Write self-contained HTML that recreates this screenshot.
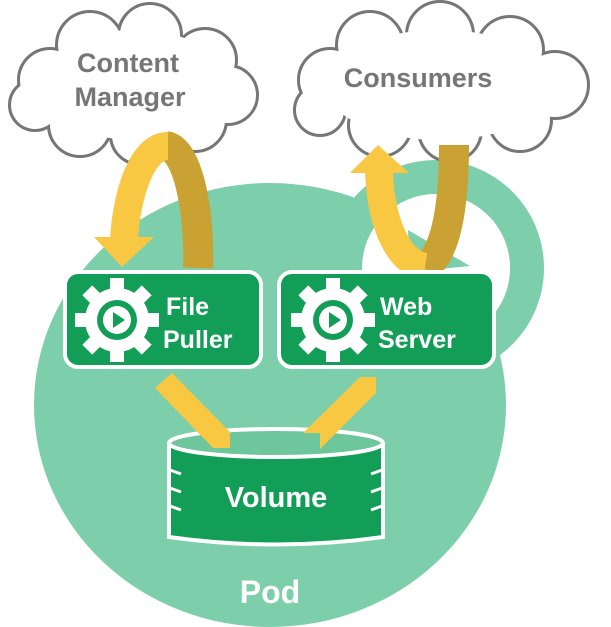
<!DOCTYPE html>
<html><head><meta charset="utf-8"><style>
html,body{margin:0;padding:0;background:#fff;}
svg{display:block;}
text{font-family:"Liberation Sans",sans-serif;font-weight:bold;}
</style></head><body>
<svg width="611" height="627" viewBox="0 0 611 627">
<!-- pod ring -->
<circle cx="436" cy="268" r="91" fill="none" stroke="#7dcfab" stroke-width="34"/>
<polygon points="410,232 470,268 412,275" fill="#7dcfab"/>
<!-- pod -->
<ellipse cx="270" cy="405" rx="236" ry="222" fill="#7dcfab"/>
<circle cx="436" cy="268" r="74" fill="#fff"/>
<path d="M362 268 A74 74 0 0 1 436 194" fill="none"/>
<polygon points="408,230 470,266 410,272" fill="#7dcfab"/>
<path d="M 395 260 L 470 268 L 505 350 L 440 330 Z" fill="#7dcfab" opacity="0"/>
<!-- clouds -->
<g stroke="#767676" stroke-width="6" fill="#fff">
 <circle cx="50" cy="80" r="30"/><circle cx="90" cy="45" r="32"/><circle cx="150" cy="35" r="30"/><circle cx="205" cy="60" r="30"/><circle cx="228" cy="95" r="28"/><circle cx="195" cy="120" r="30"/><circle cx="140" cy="135" r="28"/><circle cx="80" cy="125" r="30"/><circle cx="35" cy="105" r="24"/>
 <circle cx="330" cy="80" r="30"/><circle cx="370" cy="45" r="32"/><circle cx="440" cy="35" r="32"/><circle cx="510" cy="50" r="32"/><circle cx="555" cy="85" r="32"/><circle cx="520" cy="120" r="30"/><circle cx="450" cy="130" r="30"/><circle cx="380" cy="125" r="30"/><circle cx="320" cy="110" r="24"/>
</g>
<g fill="#fff">
 <circle cx="50" cy="80" r="30"/><circle cx="90" cy="45" r="32"/><circle cx="150" cy="35" r="30"/><circle cx="205" cy="60" r="30"/><circle cx="228" cy="95" r="28"/><circle cx="195" cy="120" r="30"/><circle cx="140" cy="135" r="28"/><circle cx="80" cy="125" r="30"/><circle cx="35" cy="105" r="24"/><ellipse cx="135" cy="85" rx="95" ry="55"/>
 <circle cx="330" cy="80" r="30"/><circle cx="370" cy="45" r="32"/><circle cx="440" cy="35" r="32"/><circle cx="510" cy="50" r="32"/><circle cx="555" cy="85" r="32"/><circle cx="520" cy="120" r="30"/><circle cx="450" cy="130" r="30"/><circle cx="380" cy="125" r="30"/><circle cx="320" cy="110" r="24"/><ellipse cx="440" cy="85" rx="115" ry="55"/>
</g>
<g fill="#767676" font-size="27" text-anchor="middle">
 <text x="128" y="72">Content</text><text x="130" y="106">Manager</text>
 <text x="418" y="87">Consumers</text>
</g>
<!-- content manager loop -->
<path d="M166 146 C 190 150, 200 220, 198 268" fill="none" stroke="#c9a233" stroke-width="30"/>
<path d="M168 146 C 140 146, 126 200, 124 240" fill="none" stroke="#f8c843" stroke-width="28"/>
<polygon points="94,237 154,237 122,267" fill="#f8c843"/>
<!-- consumers loop -->
<path d="M454 145 C 454 210, 445 255, 425 267" fill="none" stroke="#c9a233" stroke-width="30"/>
<path d="M379 170 C 380 215, 395 262, 425 267" fill="none" stroke="#f8c843" stroke-width="28"/>
<polygon points="350,173 409,173 378,145" fill="#f8c843"/>
<!-- boxes -->
<rect x="65" y="272" width="196" height="95" rx="13" fill="#139e58" stroke="#fff" stroke-width="4"/>
<rect x="279" y="272" width="215" height="95" rx="13" fill="#139e58" stroke="#fff" stroke-width="4"/>
<g fill="#fff">
 <g transform="translate(117,320)">
  <circle r="32"/>
  <g id="t"><rect x="-7" y="-42" width="14" height="14"/><rect x="-7" y="28" width="14" height="14"/><rect x="-42" y="-7" width="14" height="14"/><rect x="28" y="-7" width="14" height="14"/></g>
  <g transform="rotate(45)"><rect x="-7" y="-42" width="14" height="14"/><rect x="-7" y="28" width="14" height="14"/><rect x="-42" y="-7" width="14" height="14"/><rect x="28" y="-7" width="14" height="14"/></g>
  <circle r="20" fill="#139e58"/><circle r="14" fill="#fff"/><polygon points="-4,-8 8,0 -4,8" fill="#139e58"/>
 </g>
 <g transform="translate(333,320)">
  <circle r="32"/>
  <rect x="-7" y="-42" width="14" height="14"/><rect x="-7" y="28" width="14" height="14"/><rect x="-42" y="-7" width="14" height="14"/><rect x="28" y="-7" width="14" height="14"/>
  <g transform="rotate(45)"><rect x="-7" y="-42" width="14" height="14"/><rect x="-7" y="28" width="14" height="14"/><rect x="-42" y="-7" width="14" height="14"/><rect x="28" y="-7" width="14" height="14"/></g>
  <circle r="20" fill="#139e58"/><circle r="14" fill="#fff"/><polygon points="-4,-8 8,0 -4,8" fill="#139e58"/>
 </g>
</g>
<g fill="#fff" font-size="25">
 <text x="166" y="315">File</text><text x="163" y="348">Puller</text>
 <text x="380" y="315">Web</text><text x="378" y="348">Server</text>
</g>
<!-- cylinder -->
<path d="M169 443 L169 537 Q276 552 383 537 L383 443" fill="#139e58" stroke="#fff" stroke-width="4"/>
<ellipse cx="276" cy="443" rx="107" ry="14" fill="#6dc69c" stroke="#fff" stroke-width="4"/>
<g stroke="#fff" stroke-width="3">
 <line x1="170" y1="470" x2="181" y2="474"/><line x1="170" y1="488" x2="181" y2="492"/><line x1="170" y1="506" x2="181" y2="510"/>
 <line x1="382" y1="470" x2="371" y2="474"/><line x1="382" y1="488" x2="371" y2="492"/><line x1="382" y1="506" x2="371" y2="510"/>
</g>
<text x="276" y="507" fill="#fff" font-size="29" text-anchor="middle">Volume</text>
<!-- volume arrows -->
<polygon points="155,388 172,373 230,432 230,448 213,448" fill="#f8c843"/>
<polygon points="360,377 376,377 376,393 320,449 320,433 303,433" fill="#f8c843"/>
<text x="270" y="603" fill="#fff" font-size="32" text-anchor="middle">Pod</text>
</svg>
</body></html>
